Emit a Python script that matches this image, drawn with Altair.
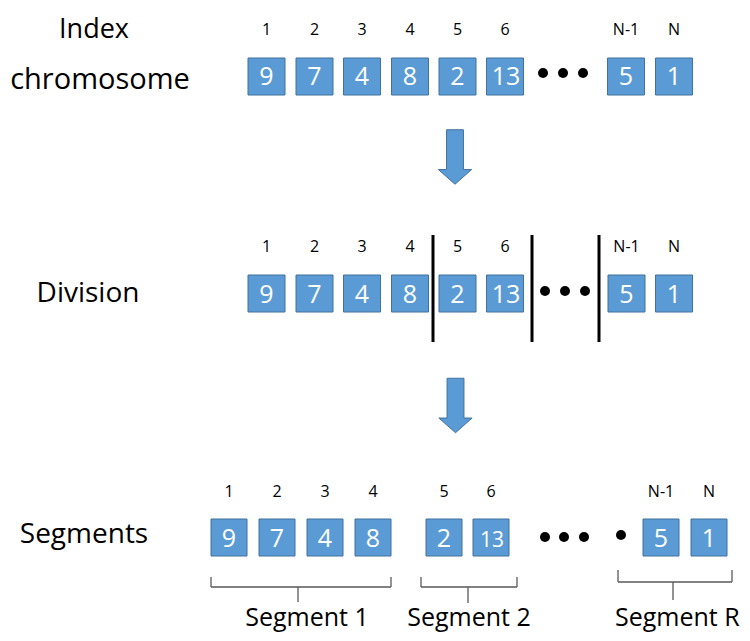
import altair as alt
import pandas as pd

# ---------------- data ----------------
index_labels = ["1", "2", "3", "4", "5", "6", "N-1", "N"]
chromosome = [9, 7, 4, 8, 2, 13, 5, 1]
header_name = "Index"
row_names = ["chromosome", "Division", "Segments"]
segment_names = ["Segment 1", "Segment 2", "Segment R"]

# ---------------- layout (page pixels, 750x641 window, 8px body margin) ----------------
W, H, M = 750, 641, 8
X_MAX, Y_MAX = W - M, H - M          # keep the page from overflowing the window
FONT = "Open Sans"
BLUE, BLUE_EDGE = "#5B9BD5", "#41719C"

rows = {
    "top": dict(xs=[266.5, 314.5, 362, 410, 457.5, 505, 626, 674], cy=76.5, bw=37, bh=37,
                idx_base=35, dig_base=85, dots=[543, 563, 583], dot_y=73),
    "mid": dict(xs=[266.5, 314.5, 362, 410, 457.5, 505, 626.5, 674], cy=293.5, bw=37, bh=37,
                idx_base=252, dig_base=302.5, dots=[545, 565, 585], dot_y=291),
    "bot": dict(xs=[229, 277, 325, 373, 444, 491, 661, 709], cy=537.5, bw=36, bh=37,
                idx_base=497, dig_base=547, dots=[545, 564, 584, 621], dot_y=537),
}

boxes, texts, dots = [], [], []
for rname, r in rows.items():
    for i, (lab, val) in enumerate(zip(index_labels, chromosome)):
        cx = r["xs"][i]
        boxes.append(dict(x=cx - r["bw"] / 2, x2=cx + r["bw"] / 2,
                          y=r["cy"] - r["bh"] / 2, y2=r["cy"] + r["bh"] / 2))
        texts.append(dict(x=cx, y=r["idx_base"], text=lab, size=16, color="#000000"))
        fs = 21 if (rname == "bot" and val >= 10) else 25
        texts.append(dict(x=cx + (0 if val < 10 else 1), y=r["dig_base"], text=str(val), size=fs, color="#FFFFFF"))
    for j, dx in enumerate(r["dots"]):
        dots.append(dict(x=dx, y=r["dot_y"] - (2 if j == 3 else 0)))

left_labels = [
    (header_name, 94, 38, 27),
    (row_names[0], 100, 89, 29),
    (row_names[1], 88, 302, 28),
    (row_names[2], 84, 543, 28),
]
for t, x, y, s in left_labels:
    texts.append(dict(x=x, y=y, text=t, size=s, color="#000000"))

SEG_BASE = 626
texts.append(dict(x=307, y=SEG_BASE, text=segment_names[0], size=25, color="#000000"))
texts.append(dict(x=469, y=SEG_BASE, text=segment_names[1], size=25, color="#000000"))
seg_r = pd.DataFrame([dict(x=615, y=SEG_BASE, text=segment_names[2], size=25)])

# division bars
div_df = pd.DataFrame([dict(x=x, y=235, y2=342) for x in [433, 532, 599]])

# brackets
br = []
for (xl, xr, xs, ytop, yline, ybot) in [(211, 391, 298, 577, 587, 602),
                                         (421, 517, 468, 577, 587, 603),
                                         (618, 732, 673, 570, 582, 600)]:
    br.append(dict(x=xl, x2=xr, y=yline, y2=yline))
    br.append(dict(x=xl, x2=xl, y=ytop, y2=yline))
    br.append(dict(x=xr, x2=xr, y=ytop, y2=yline))
    br.append(dict(x=xs, x2=xs, y=yline, y2=ybot))
br_df = pd.DataFrame(br)

arrows = pd.DataFrame([dict(x=455, y=157), dict(x=455.5, y=405.5)])
ARROW = "M-0.31,-1L0.31,-1L0.31,0.46L0.61,0.46L0,1L-0.61,0.46L-0.31,0.46Z"

xs = alt.Scale(domain=[M, X_MAX], nice=False, zero=False)
ys = alt.Scale(domain=[M, Y_MAX], nice=False, zero=False, reverse=True)
X = lambda f="x": alt.X(f"{f}:Q", scale=xs, axis=None)
Y = lambda f="y": alt.Y(f"{f}:Q", scale=ys, axis=None)

box_layer = alt.Chart(pd.DataFrame(boxes)).mark_rect(
    fill=BLUE, stroke=BLUE_EDGE, strokeWidth=1).encode(
    x=X(), x2="x2:Q", y=Y(), y2="y2:Q")

text_layer = alt.Chart(pd.DataFrame(texts)).mark_text(
    font=FONT, baseline="alphabetic", align="center").encode(
    x=X(), y=Y(), text="text:N",
    size=alt.Size("size:Q", scale=None, legend=None),
    color=alt.Color("color:N", scale=None, legend=None))

segr_layer = alt.Chart(seg_r).mark_text(
    font=FONT, baseline="alphabetic", align="left", color="#000000").encode(
    x=X(), y=Y(), text="text:N", size=alt.Size("size:Q", scale=None, legend=None))

dot_layer = alt.Chart(pd.DataFrame(dots)).mark_circle(
    color="#000000", size=100, opacity=1).encode(x=X(), y=Y())

div_layer = alt.Chart(div_df).mark_rule(color="#000000", strokeWidth=3).encode(
    x=X(), y=Y(), y2="y2:Q")

br_layer = alt.Chart(br_df).mark_rule(color="#595959", strokeWidth=1.3).encode(
    x=X(), x2="x2:Q", y=Y(), y2="y2:Q")

arrow_layer = alt.Chart(arrows).mark_point(
    shape=ARROW, filled=True, fill=BLUE, stroke=BLUE_EDGE, strokeWidth=1,
    opacity=1, size=2970).encode(x=X(), y=Y())

chart = alt.layer(
    box_layer, div_layer, br_layer, dot_layer, arrow_layer, text_layer, segr_layer
).properties(
    width=X_MAX - M, height=Y_MAX - M,
    autosize=alt.AutoSizeParams(type="none"), padding=0,
).configure_view(stroke=None)

chart.save("out.html", embed_options={"renderer": "svg", "actions": False})
